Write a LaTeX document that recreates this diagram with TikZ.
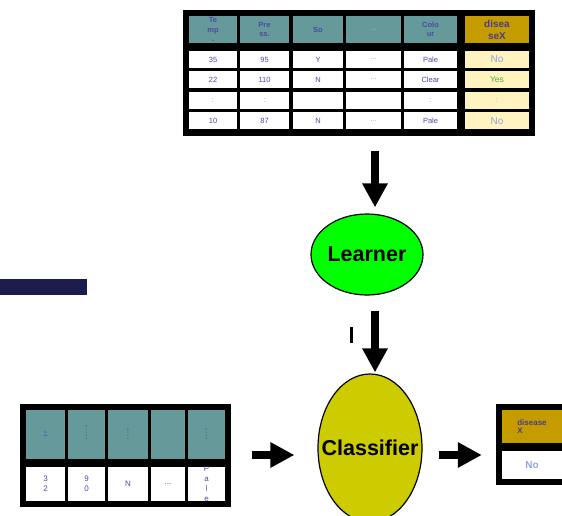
\documentclass[tikz,border=0pt]{standalone}
\usepackage{fontspec}
\setmainfont{Liberation Sans}
\usetikzlibrary{shapes.geometric,arrows.meta}
\definecolor{headteal}{HTML}{669999}
\definecolor{gold}{HTML}{C49C00}
\definecolor{paleyellow}{HTML}{FFF3C0}
\definecolor{inkblue}{HTML}{4A4AA8}
\definecolor{diseaseink}{HTML}{4B3D8F}
\definecolor{lightblue}{HTML}{8FA5E0}
\definecolor{dotgray}{HTML}{A0A0C0}
\definecolor{yesgreen}{HTML}{4FA84F}
\definecolor{navybar}{HTML}{1C1C4C}
\definecolor{learngreen}{HTML}{00FF00}
\definecolor{classyellow}{HTML}{CCCC00}
\newcommand{\faint}[1]{\textcolor{dotgray}{#1}}
\tikzset{
  tblframe/.style={fill=black, inner sep=0pt},
  hcell/.style={fill=headteal, inner sep=0pt, minimum height=27pt, text=inkblue,
    font=\fontsize{7.5}{9.5}\selectfont\bfseries, align=center},
  dcell/.style={fill=white, inner sep=0pt, minimum height=17pt, text=inkblue,
    font=\fontsize{7.5}{9}\selectfont, align=center},
  ycell/.style={fill=paleyellow, inner sep=0pt, minimum width=64pt, minimum height=17pt},
  fatarrow/.style={line width=8pt, -{Triangle[length=24pt,width=24pt]}},
  blob/.style={ellipse, draw=black, line width=1.2pt, inner sep=0pt}
}
\begin{document}
\begin{tikzpicture}[x=1pt,y=-1pt]
  \useasboundingbox (0,0) rectangle (562,516);

  % training table
  \node[tblframe, minimum width=352pt, minimum height=126pt] (train) at (359,73) {};
  \foreach \n/\x/\w/\hd/\ra/\rb/\rc/\rd in {
      1/213/48/{Te\\mp\\.}/35/22/{\faint{:}}/10,
      2/264.5/49/{Pre\\ss.}/95/110/{\faint{:}}/87,
      3/318/50/So/Y/N//N,
      4/373.5/55/{\faint{...}}/{\faint{...}}/{\faint{...}}//{\faint{...}},
      5/430.5/53/{Colo\\ur}/Pale/Clear/{\faint{:}}/Pale}{
    \node[hcell, minimum width=\w] (th\n) at (\x,29.5) {\hd};
    \node[dcell, minimum width=\w] (ta\n) at (\x,59.5) {\ra};
    \node[dcell, minimum width=\w] (tb\n) at (\x,79.5) {\rb};
    \node[dcell, minimum width=\w] (tc\n) at (\x,100.5) {\rc};
    \node[dcell, minimum width=\w] (td\n) at (\x,121) {\rd};
  }
  \node[hcell, fill=gold, minimum width=64pt, text=diseaseink,
    font=\fontsize{10}{12}\selectfont\bfseries] (th6) at (497,29.5) {disea\\seX};
  \node[ycell, text=lightblue, font=\fontsize{10}{12}\selectfont] (ta6) at (497,59.5) {No};
  \node[ycell, text=yesgreen, font=\fontsize{8.5}{10}\selectfont] (tb6) at (497,79.5) {Yes};
  \node[ycell, text=dotgray, font=\fontsize{7}{9}\selectfont] (tc6) at (497,100.5) {:};
  \node[ycell, text=lightblue, font=\fontsize{10}{12}\selectfont] (td6) at (497,121) {No};

  % learner and classifier
  \node[blob, fill=learngreen, minimum width=112pt, minimum height=81pt,
    label={[font=\fontsize{21.5}{24}\selectfont\bfseries]center:Learner}] (learner) at (367,254.5) {};
  \node[blob, fill=classyellow, minimum width=104pt, minimum height=148pt,
    label={[font=\fontsize{21.5}{24}\selectfont\bfseries]center:Classifier}] (classifier) at (370,448) {};

  % new case
  \node[tblframe, minimum width=211pt, minimum height=103pt] (test) at (125.5,455.5) {};
  \foreach \n/\x/\w/\hd/\ra in {
      1/45.5/39/{Te\\mp}/{3\\2},
      2/86.5/37/{P\\r\\e\\s\\s\\.}/{9\\0},
      3/128/40/{S\\o\\r\\e}/N,
      4/168/34/{-}/{...},
      5/206.5/37/{C\\o\\l\\o}/{}}{
    \node[hcell, minimum width=\w, minimum height=49pt,
      font=\fontsize{2.5}{3}\selectfont\bfseries] (sh\n) at (\x,434.5) {\hd};
    \node[dcell, minimum width=\w, minimum height=34pt,
      font=\fontsize{8}{10}\selectfont] (sd\n) at (\x,484) {\ra};
  }
  \begin{scope}
    \clip (sd5.south west) rectangle (sd5.north east);
    \node[text=inkblue, font=\fontsize{8}{10}\selectfont, align=center] (pale) at (sd5) {P\\a\\l\\e};
  \end{scope}

  % result
  \node[tblframe, minimum width=66pt, minimum height=81pt] (result) at (529,444.5) {};
  \node[hcell, fill=gold, minimum width=60pt, minimum height=33pt, text=diseaseink, align=left,
    font=\fontsize{8}{8.5}\selectfont\bfseries] (rh) at (532,426.5) {disease\\X};
  \node[dcell, minimum width=60pt, minimum height=28pt, text=lightblue,
    font=\fontsize{10}{12}\selectfont\bfseries] (rno) at (532,465) {No};

  % arrows
  \coordinate (feed) at (375,151);
  \coordinate (model) at (375,311);
  \coordinate (query) at (252,455);
  \coordinate (predict) at (439,455);
  \draw[fatarrow, shorten >=6pt] (feed) -- (feed |- learner.north);
  \draw[fatarrow, shorten >=1pt] (model) -- (model |- classifier.north);
  \draw[fatarrow, shorten >=23pt] (query) -- (query -| classifier.west);
  \draw[fatarrow, shorten >=14pt] (predict) -- (predict -| result.west);

  \fill[navybar] (0,279) rectangle (87,295);
  \fill[black] (350,327) rectangle (353,343);
\end{tikzpicture}
\end{document}
